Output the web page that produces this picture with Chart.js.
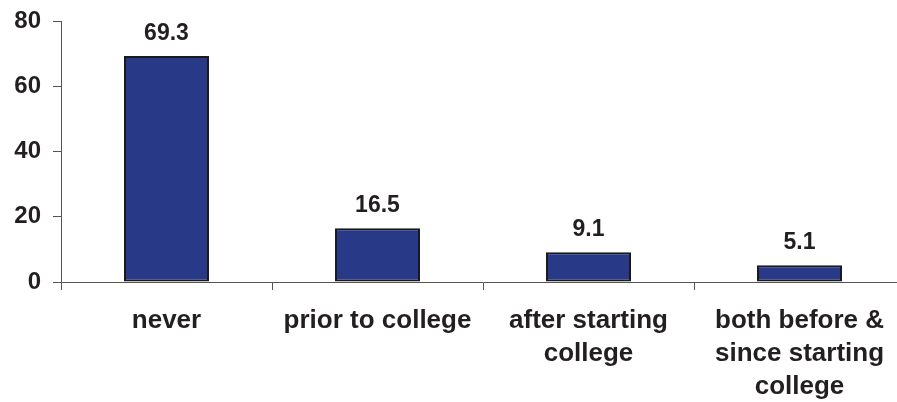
<!DOCTYPE html>
<html>
<head>
<meta charset="utf-8">
<script src="https://cdn.jsdelivr.net/npm/chart.js@4/dist/chart.umd.min.js"></script>
<style>
  html, body { margin: 0; padding: 0; background: #fff; overflow: hidden; }
  #wrap { width: 897px; height: 402px; overflow: hidden; }
</style>
</head>
<body>
<div id="wrap"><canvas id="chart" width="906" height="402"></canvas></div>
<script>
const categories = [
  ["never"],
  ["prior to college"],
  ["after starting", "college"],
  ["both before &", "since starting", "college"]
];
const values = [69.3, 16.5, 9.1, 5.1];
const yTicks = [0, 20, 40, 60, 80];

const textColor = "#231f20";
const axisColor = "#555555";

// draws the value on top of each bar
const valueLabels = {
  id: "valueLabels",
  afterDatasetsDraw(chart) {
    const ctx = chart.ctx;
    const meta = chart.getDatasetMeta(0);
    ctx.save();
    ctx.font = "bold 23px 'Liberation Sans', Arial, sans-serif";
    ctx.fillStyle = textColor;
    ctx.textAlign = "center";
    ctx.textBaseline = "alphabetic";
    meta.data.forEach((bar, i) => {
      ctx.fillText(values[i].toFixed(1), bar.x, bar.y - 16);
    });
    ctx.restore();
  }
};

const ctx = document.getElementById("chart").getContext("2d");
new Chart(ctx, {
  type: "bar",
  data: {
    labels: categories,
    datasets: [
      {
        data: values,
        backgroundColor: "#283987",
        borderColor: "#1a1a1a",
        borderWidth: 2,
        borderSkipped: false,
        categoryPercentage: 1,
        barPercentage: 0.403,
      },
    ],
  },
  options: {
    responsive: false,
    animation: false,
    layout: { padding: { top: 21, right: 1, left: 0, bottom: 0 } },
    plugins: {
      legend: { display: false },
      tooltip: { enabled: false },
    },
    scales: {
      x: {
        offset: true,
        grid: {
          offset: true,
          drawOnChartArea: false,
          tickLength: 8,
          color: axisColor,
        },
        border: { color: axisColor, width: 1 },
        ticks: {
          color: textColor,
          padding: 14,
          maxRotation: 0,
          autoSkip: false,
          font: { family: "'Liberation Sans', Arial, sans-serif", size: 26, weight: "bold", lineHeight: 1.27 },
        },
        afterFit(scale) {
          scale.height = 120;
        },
      },
      y: {
        min: 0,
        max: 80,
        afterBuildTicks(scale) {
          scale.ticks = yTicks.map((v) => ({ value: v }));
        },
        grid: {
          drawOnChartArea: false,
          tickLength: 8,
          color: axisColor,
        },
        border: { color: axisColor, width: 1 },
        ticks: {
          color: textColor,
          padding: 12,
          font: { family: "'Liberation Sans', Arial, sans-serif", size: 24, weight: "bold" },
        },
        afterFit(scale) {
          scale.width = 61;
          scale.paddingTop = 0;
          scale.paddingBottom = 0;
        },
      },
    },
  },
  plugins: [valueLabels],
});
</script>
</body>
</html>
